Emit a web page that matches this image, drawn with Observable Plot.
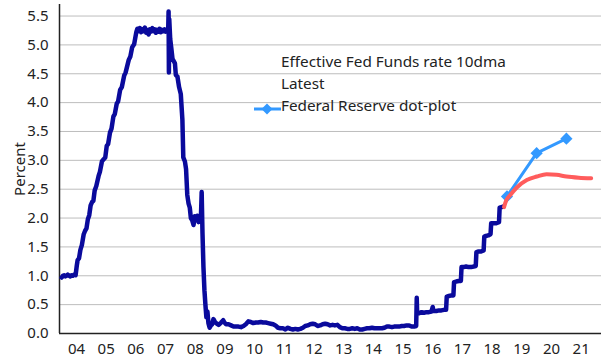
<!DOCTYPE html>
<html><head><meta charset="utf-8">
<script src="https://cdn.jsdelivr.net/npm/d3@7"></script>
<script src="https://cdn.jsdelivr.net/npm/@observablehq/plot@0.6"></script>
<style>
body{margin:0;background:#fff;}
#wrap{position:relative;width:602px;height:363px;font-family:"Noto Sans",sans-serif;}
.leg{position:absolute;left:281px;font-size:15.3px;color:#222;line-height:22px;white-space:nowrap;}
#sw{position:absolute;left:253px;top:99px;}
</style></head><body><div id="wrap"></div>
<script>
// Effective Fed Funds rate, 10-day moving average
const effrDates = ["2004-01-01","2004-01-16","2004-02-01","2004-02-16","2004-03-01","2004-03-16","2004-04-01","2004-04-16","2004-05-01","2004-05-16","2004-06-01","2004-06-20","2004-07-05","2004-07-15","2004-08-01","2004-08-18","2004-09-05","2004-09-28","2004-10-15","2004-11-01","2004-11-18","2004-12-05","2004-12-22",
"2005-01-10","2005-01-25","2005-02-10","2005-03-01","2005-03-30","2005-04-15","2005-05-10","2005-06-01","2005-06-20","2005-07-08","2005-07-25","2005-08-17","2005-09-05","2005-09-28","2005-10-15","2005-11-08","2005-11-25","2005-12-20",
"2006-01-10","2006-02-08","2006-02-25","2006-04-05","2006-04-25","2006-05-17","2006-06-10","2006-07-07","2006-07-20","2006-08-05","2006-08-20","2006-09-05","2006-09-20","2006-10-05","2006-10-20","2006-11-05","2006-11-20","2006-12-05","2006-12-20",
"2007-01-05","2007-01-20","2007-02-05","2007-02-20","2007-03-05","2007-03-20","2007-04-05","2007-04-20","2007-05-05","2007-05-20","2007-06-05","2007-06-20","2007-07-05","2007-07-20","2007-08-03","2007-08-08","2007-08-12","2007-08-16","2007-08-28","2007-09-10","2007-09-25","2007-10-10","2007-10-25","2007-11-05","2007-11-25","2007-12-15",
"2008-01-05","2008-01-25","2008-02-05","2008-02-25","2008-03-10","2008-03-25","2008-04-10","2008-04-25","2008-05-08","2008-05-25","2008-06-10","2008-06-25","2008-07-10","2008-07-25","2008-08-10","2008-08-25","2008-09-08","2008-09-18","2008-09-28","2008-10-10","2008-10-22","2008-11-03","2008-11-15","2008-11-28","2008-12-10","2008-12-25",
"2009-01-10","2009-01-25","2009-02-10","2009-02-25","2009-03-15","2009-04-15","2009-05-15","2009-06-10","2009-06-25","2009-07-15","2009-08-15","2009-09-15","2009-10-15","2009-11-15","2009-12-15",
"2010-01-15","2010-02-15","2010-03-15","2010-04-15","2010-05-15","2010-06-15","2010-07-15","2010-08-15","2010-09-15","2010-10-15","2010-11-15","2010-12-15",
"2011-01-15","2011-02-15","2011-03-15","2011-04-15","2011-05-15","2011-06-15","2011-07-15","2011-08-15","2011-09-15","2011-10-15","2011-11-15","2011-12-15",
"2012-01-15","2012-02-15","2012-03-15","2012-04-15","2012-05-15","2012-06-15","2012-07-15","2012-08-15","2012-09-15","2012-10-15","2012-11-15","2012-12-15",
"2013-01-15","2013-02-15","2013-03-15","2013-04-15","2013-05-15","2013-06-15","2013-07-15","2013-08-15","2013-09-15","2013-10-15","2013-11-15","2013-12-15",
"2014-01-15","2014-02-15","2014-03-15","2014-04-15","2014-05-15","2014-06-15","2014-07-15","2014-08-15","2014-09-15","2014-10-15","2014-11-15","2014-12-15",
"2015-01-15","2015-02-15","2015-03-15","2015-04-15","2015-05-15","2015-06-15","2015-07-15","2015-08-15","2015-09-15","2015-10-15","2015-11-15","2015-12-10","2015-12-17","2015-12-22",
"2016-01-15","2016-02-15","2016-03-15","2016-04-15","2016-05-15","2016-06-15","2016-07-01","2016-07-08","2016-08-15","2016-09-15","2016-10-15","2016-11-15","2016-12-12","2016-12-20",
"2017-01-15","2017-02-15","2017-03-12","2017-03-20","2017-04-15","2017-05-15","2017-06-12","2017-06-20","2017-07-15","2017-08-15","2017-09-15","2017-10-15","2017-11-15","2017-12-12","2017-12-20",
"2018-01-15","2018-02-15","2018-03-19","2018-03-27","2018-04-15","2018-05-15","2018-06-12","2018-06-20","2018-07-15","2018-08-15","2018-09-24","2018-10-02","2018-10-25","2018-11-20"];
const effrRates = [0.97,1.00,1.01,0.99,1.00,1.02,1.00,0.99,1.01,1.00,1.02,1.01,1.18,1.27,1.30,1.45,1.53,1.72,1.78,1.82,1.98,2.05,2.22,
2.28,2.30,2.48,2.55,2.73,2.80,2.98,3.02,3.05,3.25,3.28,3.48,3.55,3.76,3.80,3.98,4.02,4.22,
4.27,4.47,4.52,4.74,4.80,4.96,5.01,5.22,5.28,5.24,5.29,5.22,5.27,5.24,5.30,5.21,5.26,5.18,5.27,
5.23,5.29,5.24,5.27,5.21,5.26,5.23,5.28,5.22,5.26,5.24,5.27,5.23,5.26,5.25,5.58,4.52,5.45,5.10,4.95,4.76,4.72,4.68,4.48,4.45,4.27,
4.15,3.70,3.05,2.98,2.85,2.40,2.25,2.18,2.00,1.96,1.88,2.03,1.97,2.04,1.93,2.01,1.97,2.45,1.75,1.15,0.75,0.50,0.28,0.38,0.18,0.10,
0.14,0.16,0.25,0.21,0.18,0.15,0.19,0.23,0.19,0.16,0.16,0.14,0.12,0.12,0.12,
0.11,0.13,0.16,0.21,0.20,0.18,0.19,0.19,0.20,0.19,0.19,0.18,
0.17,0.16,0.14,0.10,0.09,0.09,0.07,0.10,0.08,0.07,0.08,0.07,
0.08,0.10,0.13,0.14,0.16,0.17,0.16,0.13,0.14,0.16,0.17,0.16,
0.14,0.15,0.14,0.15,0.11,0.09,0.09,0.08,0.08,0.09,0.08,0.09,
0.07,0.07,0.08,0.09,0.09,0.10,0.09,0.09,0.09,0.09,0.10,0.12,
0.12,0.11,0.12,0.12,0.12,0.13,0.13,0.14,0.14,0.12,0.12,0.13,0.62,0.36,
0.35,0.37,0.36,0.37,0.37,0.38,0.46,0.39,0.39,0.40,0.40,0.41,0.41,0.64,
0.65,0.66,0.66,0.89,0.90,0.91,0.91,1.15,1.15,1.16,1.15,1.15,1.16,1.17,1.41,
1.42,1.42,1.44,1.68,1.69,1.70,1.72,1.91,1.91,1.91,1.93,2.18,2.19,2.20];

// Latest (market path)
const latestDates = ["2018-11-25","2018-12-20","2019-02-10","2019-05-01","2019-09-01","2020-01-01","2020-05-01","2020-09-01","2021-01-01","2021-06-01","2021-11-01"];
const latestRates = [2.19,2.30,2.40,2.53,2.66,2.72,2.76,2.75,2.72,2.70,2.69];

// Federal Reserve dot-plot medians
const dotDates = ["2018-12-31","2019-12-31","2020-12-31"];
const dotRates = [2.375,3.125,3.375];

// Axis ticks
const yTickValues = [0,0.5,1,1.5,2,2.5,3,3.5,4,4.5,5,5.5];
const xTickLabels = ["04","05","06","07","08","09","10","11","12","13","14","15","16","17","18","19","20","21"];

const seriesNames = ["Effective Fed Funds rate 10dma","Latest","Federal Reserve dot-plot"];
const colors = {effr:"#0a0a9c", latest:"#ff5c5c", dots:"#3399ff"};

const parse = d3.utcParse("%Y-%m-%d");
const effr = effrDates.map((d,i)=>({date:parse(d), value:effrRates[i]}));
const latest = latestDates.map((d,i)=>({date:parse(d), value:latestRates[i]}));
const dots = dotDates.map((d,i)=>({date:parse(d), value:dotRates[i]}));
const xTicks = xTickLabels.map(s => new Date(Date.UTC(2000 + (+s), 6, 1)));
const xDomain = [parse("2003-12-05"), parse("2022-03-08")];

const chart = Plot.plot({
  width: 602, height: 363,
  marginLeft: 59, marginRight: 1, marginTop: 4, marginBottom: 30,
  style: {fontFamily: '"Noto Sans", sans-serif', fontSize: "15px", color: "#222", background: "white", overflow: "visible"},
  x: {type: "utc", domain: xDomain},
  y: {domain: [0, 5.7]},
  marks: [
    Plot.gridY(yTickValues.filter(v => v > 0), {stroke: "#bdbdbd", strokeOpacity: 1}),
    Plot.axisY(yTickValues, {tickSize: 0, tickPadding: 11, tickFormat: d3.format(".1f"), label: "Percent", labelAnchor: "center", labelOffset: 45, labelArrow: "none"}),
    Plot.axisX(xTicks, {tickSize: 0, tickPadding: 10, tickFormat: d3.utcFormat("%y"), label: null}),
    Plot.ruleY([0], {stroke: "#222", strokeWidth: 1.5}),
    Plot.ruleX([xDomain[0]], {stroke: "#222", strokeWidth: 1.5}),
    Plot.line(effr, {x: "date", y: "value", stroke: colors.effr, strokeWidth: 4.5, strokeLinejoin: "round"}),
    Plot.line(dots, {x: "date", y: "value", stroke: colors.dots, strokeWidth: 3}),
    Plot.dot(dots, {x: "date", y: "value", symbol: "diamond2", r: 5.5, fill: colors.dots}),
    Plot.line(latest, {x: "date", y: "value", stroke: colors.latest, strokeWidth: 4, curve: "monotone-x"})
  ]
});
const wrap = document.getElementById("wrap");
wrap.appendChild(chart);
seriesNames.forEach((name, i) => {
  const d = document.createElement("div");
  d.className = "leg";
  d.style.top = (50 + i * 22) + "px";
  d.textContent = name;
  wrap.appendChild(d);
});
const sw = document.createElement("div");
sw.id = "sw";
sw.innerHTML = `<svg width="28" height="14"><line x1="1" y1="7" x2="28" y2="7" stroke="${colors.dots}" stroke-width="3"/><path d="M14,1.5L19.5,7L14,12.5L8.5,7Z" fill="${colors.dots}"/></svg>`;
wrap.appendChild(sw);
</script>
</body></html>
